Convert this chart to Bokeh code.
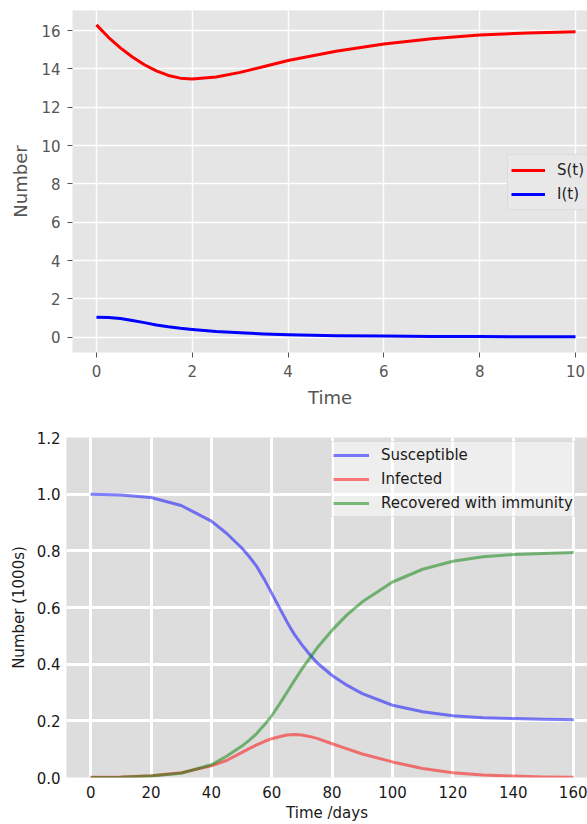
from bokeh.plotting import figure
from bokeh.models import Range1d, FixedTicker, PrintfTickFormatter, Legend, LegendItem
from bokeh.embed import file_html
from bokeh.resources import INLINE

# ---- top chart data ----
t_top = [0, 0.25, 0.5, 0.75, 1, 1.25, 1.5, 1.75, 2, 2.5, 3, 3.5, 4, 5, 6, 7, 8, 9, 10]
S_top = [16.3, 15.65, 15.1, 14.62, 14.22, 13.9, 13.66, 13.52, 13.48, 13.58, 13.82, 14.13,
         14.44, 14.92, 15.3, 15.58, 15.77, 15.88, 15.94]
I_top = [1.04, 1.03, 0.97, 0.87, 0.76, 0.64, 0.54, 0.46, 0.40, 0.30, 0.23, 0.17,
         0.13, 0.08, 0.06, 0.04, 0.03, 0.025, 0.02]
top_xticks = [0, 2, 4, 6, 8, 10]
top_yticks = [0, 2, 4, 6, 8, 10, 12, 14, 16]

# ---- bottom chart data ----
days = [0, 10, 20, 30, 40, 45, 50, 52.5, 55, 57.5, 60, 62.5, 65, 67.5, 70, 72.5, 75,
        80, 85, 90, 100, 110, 120, 130, 140, 150, 160]
susceptible = [1.0, 0.997, 0.988, 0.960, 0.905, 0.862, 0.811, 0.780, 0.745, 0.700, 0.650,
               0.600, 0.550, 0.505, 0.468, 0.435, 0.405, 0.360, 0.325, 0.296, 0.255,
               0.232, 0.218, 0.211, 0.208, 0.206, 0.204]
infected = [0.001, 0.002, 0.006, 0.017, 0.041, 0.060, 0.088, 0.102, 0.115, 0.127, 0.137,
            0.144, 0.150, 0.152, 0.150, 0.145, 0.138, 0.119, 0.101, 0.083, 0.055,
            0.032, 0.017, 0.009, 0.005, 0.002, 0.001]
recovered = [0.0, 0.001, 0.005, 0.015, 0.045, 0.075, 0.110, 0.131, 0.155, 0.185, 0.218,
             0.258, 0.300, 0.342, 0.383, 0.420, 0.457, 0.520, 0.575, 0.620, 0.690,
             0.735, 0.763, 0.779, 0.787, 0.791, 0.794]
bot_xticks = [0, 20, 40, 60, 80, 100, 120, 140, 160]
bot_yticks = [0.0, 0.2, 0.4, 0.6, 0.8, 1.0, 1.2]

FONT = "DejaVu Sans"

# ================= TOP =================
p1 = figure(width=587, height=418, output_backend="svg", toolbar_location=None,
            x_range=Range1d(-0.5, 10.25), y_range=Range1d(-0.8, 17.05),
            min_border_left=72, min_border_right=0, min_border_top=10, min_border_bottom=66)
p1.background_fill_color = "#E5E5E5"
p1.outline_line_color = None
for ax in (p1.xaxis[0], p1.yaxis[0]):
    ax.axis_line_color = None
    ax.major_tick_out = 5
    ax.major_tick_in = 0
    ax.minor_tick_line_color = None
    ax.major_tick_line_color = "#555555"
    ax.major_label_text_font = FONT
    ax.major_label_text_font_size = "15px"
    ax.major_label_text_color = "#555555"
    ax.axis_label_text_font = FONT
    ax.axis_label_text_font_size = "18px"
    ax.axis_label_text_color = "#555555"
    ax.axis_label_text_font_style = "normal"
p1.xaxis.ticker = FixedTicker(ticks=top_xticks)
p1.yaxis.ticker = FixedTicker(ticks=top_yticks)
p1.xaxis.axis_label = "Time"
p1.yaxis.axis_label = "Number"
p1.xaxis.major_label_standoff = 7
p1.yaxis.major_label_standoff = 7
p1.xaxis.axis_label_standoff = 7
p1.yaxis.axis_label_standoff = 7
p1.grid.grid_line_color = "white"
p1.grid.grid_line_width = 1.4

r_s = p1.line(t_top, S_top, line_color="red", line_width=3, line_join="round")
r_i = p1.line(t_top, I_top, line_color="blue", line_width=3, line_join="round")
leg1 = Legend(items=[LegendItem(label="S(t)", renderers=[r_s]),
                     LegendItem(label="I(t)", renderers=[r_i])],
              location=(435, 142))
leg1.padding = 3
leg1.margin = 0
leg1.spacing = 0
leg1.glyph_height = 24
leg1.label_height = 24
leg1.glyph_width = 34
leg1.label_standoff = 12
leg1.label_text_font = FONT
leg1.label_text_font_size = "15px"
leg1.label_text_color = "#222222"
leg1.background_fill_color = "#E8E8E8"
leg1.background_fill_alpha = 1.0
leg1.border_line_color = "#CFCFCF"
leg1.border_line_width = 1
p1.add_layout(leg1)

# ================= BOTTOM =================
p2 = figure(width=587, height=406, output_backend="svg", toolbar_location=None,
            x_range=Range1d(-8, 164.6), y_range=Range1d(0, 1.2),
            min_border_left=66, min_border_right=0, min_border_top=19, min_border_bottom=45)
p2.background_fill_color = "#DDDDDD"
p2.outline_line_color = None
for ax in (p2.xaxis[0], p2.yaxis[0]):
    ax.axis_line_color = None
    ax.major_tick_out = 0
    ax.major_tick_in = 0
    ax.major_tick_line_color = None
    ax.minor_tick_line_color = None
    ax.major_label_text_font = FONT
    ax.major_label_text_font_size = "15px"
    ax.major_label_text_color = "#1a1a1a"
    ax.axis_label_text_font = FONT
    ax.axis_label_text_font_size = "15px"
    ax.axis_label_text_color = "#1a1a1a"
    ax.axis_label_text_font_style = "normal"
p2.xaxis.ticker = FixedTicker(ticks=bot_xticks)
p2.yaxis.ticker = FixedTicker(ticks=bot_yticks)
p2.yaxis.formatter = PrintfTickFormatter(format="%.1f")
p2.xaxis.axis_label = "Time /days"
p2.yaxis.axis_label = "Number (1000s)"
p2.xaxis.major_label_standoff = 8
p2.yaxis.major_label_standoff = 6
p2.xaxis.axis_label_standoff = 3
p2.yaxis.axis_label_standoff = 6
p2.grid.grid_line_color = "white"
p2.grid.grid_line_width = 3

r1 = p2.line(days, susceptible, line_color="blue", line_alpha=0.5, line_width=3, line_join="round")
r2 = p2.line(days, infected, line_color="red", line_alpha=0.5, line_width=3, line_join="round")
r3 = p2.line(days, recovered, line_color="green", line_alpha=0.5, line_width=3, line_join="round")
leg2 = Legend(items=[LegendItem(label="Susceptible", renderers=[r1]),
                     LegendItem(label="Infected", renderers=[r2]),
                     LegendItem(label="Recovered with immunity", renderers=[r3])],
              location=(265, 260))
leg2.padding = 1
leg2.margin = 0
leg2.spacing = 0
leg2.glyph_height = 24
leg2.label_height = 24
leg2.glyph_width = 36
leg2.label_standoff = 12
leg2.label_text_font = FONT
leg2.label_text_font_size = "15px"
leg2.label_text_color = "#1a1a1a"
leg2.background_fill_color = "white"
leg2.background_fill_alpha = 0.5
leg2.border_line_color = "#CCCCCC"
leg2.border_line_alpha = 0.5
p2.add_layout(leg2)

open("out.html", "w").write(file_html([p1, p2], INLINE))
